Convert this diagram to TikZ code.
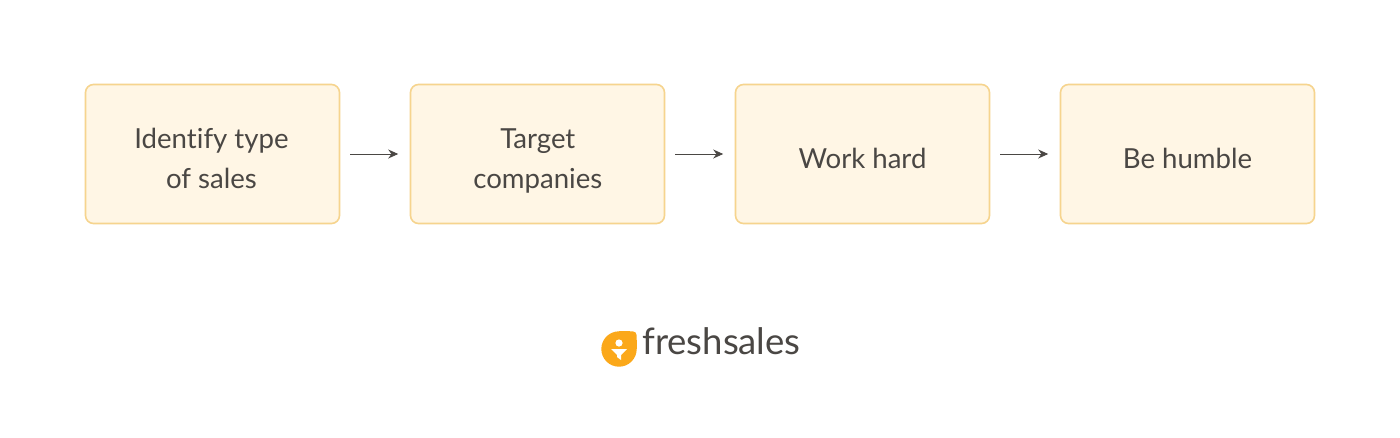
\documentclass[tikz,border=0pt]{standalone}
\usepackage{fontspec}
\setmainfont{Lato}[Ligatures=NoCommon]
\usetikzlibrary{arrows.meta}
\definecolor{boxfill}{HTML}{FFF6E5}
\definecolor{boxline}{HTML}{F6D48E}
\definecolor{ink}{HTML}{4A4744}
\definecolor{logoor}{HTML}{FBA81A}
\tikzset{
  stepbox/.style={draw=boxline,fill=boxfill,line width=1.6pt,rounded corners=8pt,minimum width=254pt,minimum height=139pt,inner sep=0pt},
  steptext/.style={inner sep=0pt,align=center,text=ink,font=\fontsize{27.6}{40}\selectfont},
  flow/.style={draw=ink,line width=0.9pt,-{Stealth[length=10pt,width=9pt]},shorten <=10pt,shorten >=11.5pt},
  brand/.style={text=ink,inner sep=0pt,font=\fontsize{36.5}{40}\selectfont}
}
\begin{document}
\begin{tikzpicture}[x=1pt,y=-1pt]
\useasboundingbox (0,0) rectangle (1400,437);
\fill[white] (0,0) rectangle (1400,437);
\node[stepbox] (a) at (212.5,154) {};
\node[stepbox] (b) at (537.5,154) {};
\node[stepbox] (c) at (862.5,154) {};
\node[stepbox] (d) at (1187.5,154) {};
\node[steptext] (ta) at (211.5,158.5) {Identify type\\of sales};
\node[steptext] (tb) at (537.8,160.5) {Target\\companies};
\node[steptext] (tc) at (862.5,158.5) {Work hard};
\node[steptext] (td) at (1187.5,158.5) {Be humble};
\draw[flow] (a) -- (b);
\draw[flow] (b) -- (c);
\draw[flow] (c) -- (d);
\node[brand,anchor=west] (logo) at (642,341) {freshsales};
\fill[logoor] (619,349) circle[radius=17.7];
\fill[logoor,rounded corners=4pt] (619,331.3) -- (636.7,331.3) -- (636.7,349) -- (619,349) -- cycle;
\fill[logoor] (619,331.3) rectangle (630,345);
\fill[logoor] (625,340) rectangle (636.7,349);
\fill[white] (619,343) circle[radius=3.6];
\fill[white] (611,349) -- (627,349) -- (621,355) -- (621,360) -- (617,357) -- (617,355) -- cycle;
\end{tikzpicture}
\end{document}
